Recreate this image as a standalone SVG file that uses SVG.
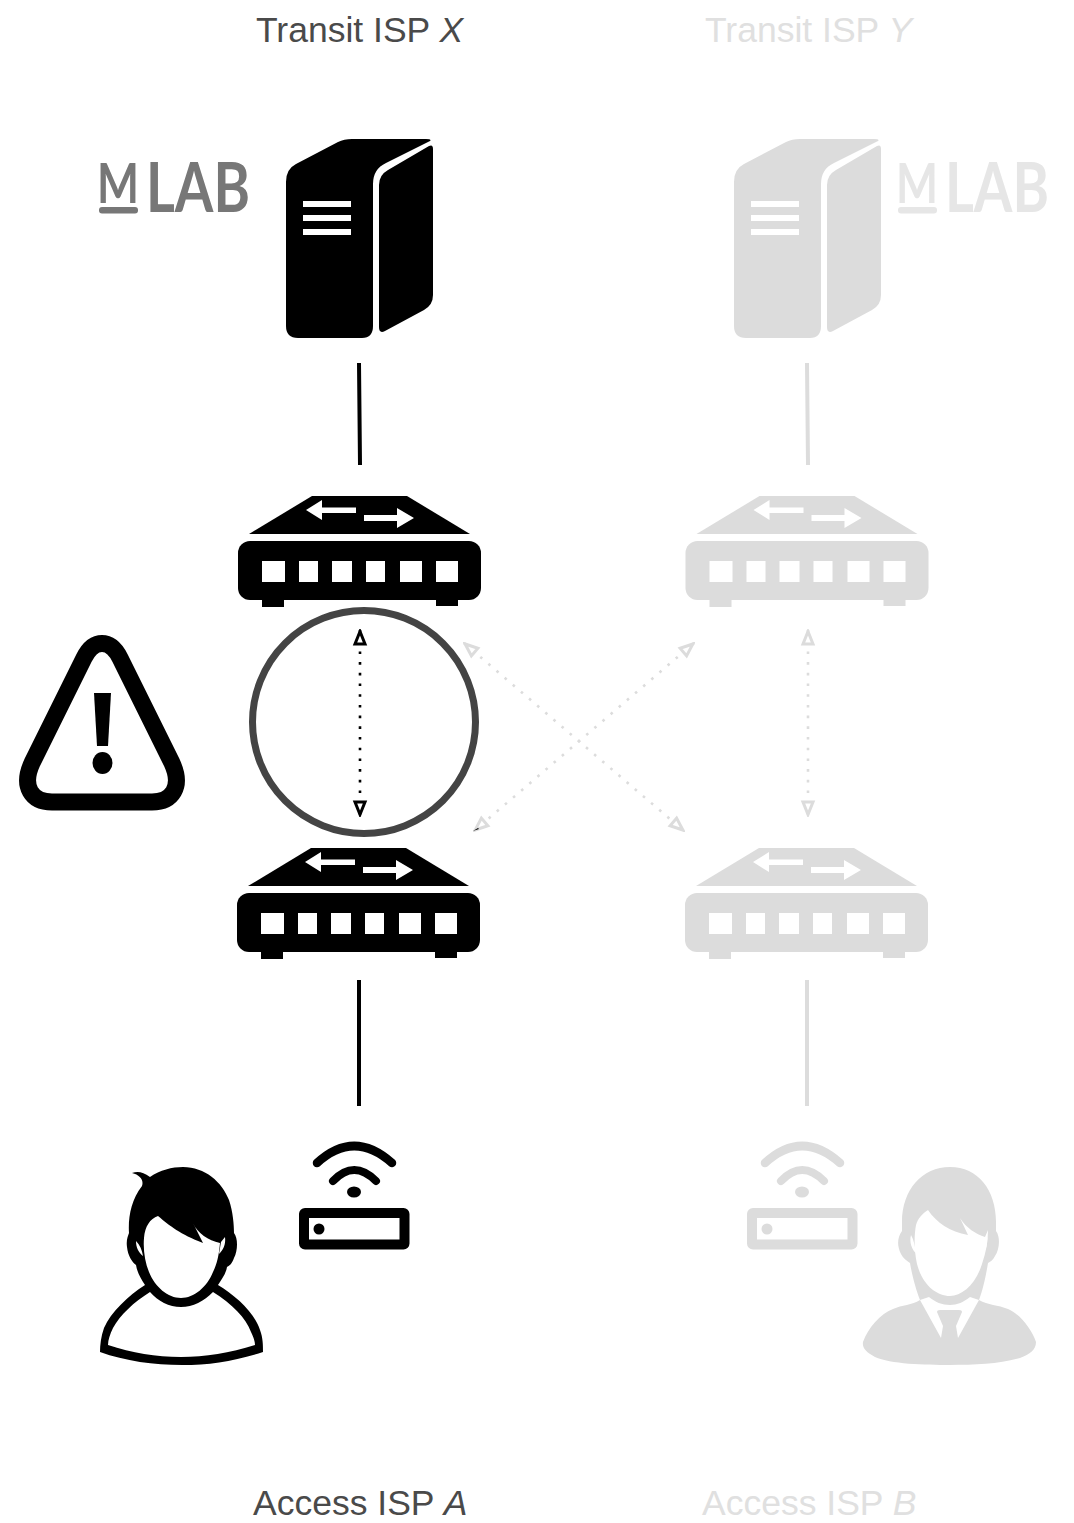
<svg xmlns="http://www.w3.org/2000/svg" width="1074" height="1523" viewBox="0 0 1074 1523">
<style>
.lbl{font-family:"Liberation Sans",Arial,sans-serif;font-size:35.500px}
.on{fill:#4a4a4a}
.off{fill:#e0e0e0}
.solid{fill:none;stroke-width:4}
.dot{fill:none;stroke-width:2.600;stroke-dasharray:2.600 8.100}
.k{fill:currentColor}
.w{fill:#fff}
.logo{font-family:"Lato","Liberation Sans",sans-serif;font-weight:700}
</style>
<defs>
<marker id="ma" viewBox="0 0 18 16" refX="17" refY="8" markerWidth="18" markerHeight="16" markerUnits="userSpaceOnUse" orient="auto-start-reverse"><path d="M15.500 8 L3 3 L3 13 Z" fill="#fff" stroke="#000" stroke-width="3"/></marker>
<marker id="mb" viewBox="0 0 18 16" refX="17" refY="8" markerWidth="18" markerHeight="16" markerUnits="userSpaceOnUse" orient="auto-start-reverse"><path d="M15.500 8 L3 3 L3 13 Z" fill="#fff" stroke="#dcdcdc" stroke-width="3"/></marker>
<g id="server">
<path class="k" d="M286 182Q286 169 296 164L338 142Q344 139 352 139L426 139Q432 139 430 141L386 163Q373 169 373 184L373 326Q373 338 362 338L298 338Q286 338 286 326Z"/>
<path class="k" d="M379 185Q379 175 388 170L429 146Q433 144 433 149L433 295Q433 305 424 310L385 331Q379 334 379 327Z"/>
<rect class="w" x="303" y="201" width="48" height="6"/><rect class="w" x="303" y="215" width="48" height="6"/><rect class="w" x="303" y="229" width="48" height="6"/>
</g>
<g id="router">
<path class="k" d="M312 496H407L470 534H249Z"/>
<path class="w" d="M306 510L322 500V507.500H356V513H322V520Z"/>
<path class="w" d="M414 518L397 508V515H364V521H397V528Z"/>
<rect class="k" x="238" y="541" width="243" height="59" rx="12"/>
<rect class="k" x="262" y="598" width="22" height="9"/><rect class="k" x="436" y="598" width="22" height="8"/>
<rect class="w" x="262" y="561" width="23" height="21"/><rect class="w" x="299" y="561" width="19" height="21"/><rect class="w" x="332" y="561" width="20" height="21"/><rect class="w" x="366" y="561" width="19" height="21"/><rect class="w" x="400" y="561" width="22" height="21"/><rect class="w" x="436" y="561" width="22" height="21"/>
</g>
<g id="wifi">
<path d="M317 1163Q354 1129 392 1163" fill="none" stroke="currentColor" stroke-width="8.500" stroke-linecap="round"/>
<path d="M333 1181Q354 1159 376 1181" fill="none" stroke="currentColor" stroke-width="8" stroke-linecap="round"/>
<ellipse class="k" cx="354" cy="1192" rx="7" ry="5.500"/>
<rect x="304" y="1213" width="100.500" height="31.500" rx="1" fill="none" stroke="currentColor" stroke-width="10" stroke-linejoin="round"/>
<circle class="k" cx="319" cy="1229" r="5.500"/>
</g>
</defs>

<g id="connectors">
<path class="solid" stroke="#000" d="M359 363L360 465M359 980V1106"/>
<path class="solid" stroke="#dcdcdc" d="M807 363L808 465M807 980V1106"/>
<path class="dot" stroke="#dcdcdc" marker-start="url(#mb)" marker-end="url(#mb)" d="M808 630V816"/>
<path class="dot" stroke="#dcdcdc" marker-start="url(#mb)" marker-end="url(#mb)" d="M464 643L684 831"/>
<path class="dot" stroke="#dcdcdc" marker-start="url(#mb)" marker-end="url(#mb)" d="M694 643L474 831"/>
<path class="dot" stroke="#000" marker-start="url(#ma)" marker-end="url(#ma)" d="M360 630V816"/>
<path d="M473 831L478 828L479 829Z" fill="#000"/>
</g>

<g id="label-transit-x"><text class="lbl on" x="256" y="42">Transit ISP <tspan font-style="italic">X</tspan></text></g>
<g id="label-transit-y"><text class="lbl off" x="705" y="42">Transit ISP <tspan font-style="italic">Y</tspan></text></g>
<g id="label-access-a"><text class="lbl on" x="253" y="1515">Access ISP <tspan font-style="italic">A</tspan></text></g>
<g id="label-access-b"><text class="lbl off" x="702" y="1515">Access ISP <tspan font-style="italic">B</tspan></text></g>

<g id="logo-x" fill="#777">
<text class="logo" x="97" y="203" font-size="55" textLength="42" lengthAdjust="spacingAndGlyphs">M</text>
<rect x="99" y="207" width="39" height="6.500" rx="3"/>
<text class="logo" x="146" y="212" font-size="68" textLength="104" lengthAdjust="spacingAndGlyphs">LAB</text>
</g>
<g id="logo-y" fill="#e6e6e6">
<text class="logo" x="896" y="203" font-size="55" textLength="42" lengthAdjust="spacingAndGlyphs">M</text>
<rect x="898" y="207" width="39" height="6.500" rx="3"/>
<text class="logo" x="945" y="212" font-size="68" textLength="104" lengthAdjust="spacingAndGlyphs">LAB</text>
</g>

<g id="server-x" color="#000"><use href="#server"/></g>
<g id="server-y" color="#dcdcdc"><use href="#server" x="448"/></g>
<g id="router-x" color="#000"><use href="#router"/></g>
<g id="router-y" color="#dcdcdc"><use href="#router" x="447.500"/></g>
<g id="router-a" color="#000"><use href="#router" x="-1" y="352"/></g>
<g id="router-b" color="#dcdcdc"><use href="#router" x="447" y="352"/></g>

<g id="ring"><circle cx="364" cy="722" r="111.500" fill="none" stroke="#444" stroke-width="7"/></g>

<g id="warning">
<path d="M102 643.500C110 643.500 116 650 120 658L172 763C183 787 172 802 152 802L52 802C32 802 21 787 32 763L84 658C88 650 94 643.500 102 643.500Z" fill="none" stroke="#000" stroke-width="17"/>
<path d="M94 693H111L108 746H97Z"/>
<ellipse cx="102.500" cy="763" rx="10" ry="11"/>
</g>

<g id="wifi-a" color="#000"><use href="#wifi"/></g>
<g id="wifi-b" color="#dcdcdc"><use href="#wifi" x="448"/></g>

<g id="person-a">
<path d="M132 1173C138 1171 143 1172 150 1177C160 1170 172 1167 183 1167C205 1167 222 1182 229 1200C233 1212 234 1225 234 1233C238 1238 238 1250 234 1258C232 1264 229 1266 227 1267C226 1274 221 1280 218 1285C236 1296 254 1312 260 1330C263 1338 263 1345 263 1352C235 1361 210 1365 182 1365C154 1365 125 1361 100 1352C100 1345 101 1336 104 1328C111 1312 128 1296 145 1285C141 1279 137 1272 136 1265C132 1262 128 1256 127 1247C126 1240 128 1236 129 1233C128 1218 131 1200 142 1186C144 1180 140 1175 132 1173Z"/>
<path class="w" d="M158 1216C170 1226 180 1234 203 1243L193 1223C198 1234 208 1240 220 1243C219 1255 217 1264 213 1272C207 1287 194 1298 181 1298C168 1298 155 1287 149 1272C145 1262 143 1250 144 1238C145 1226 150 1219 158 1216Z"/>
<path class="w" d="M150 1292C158 1301 169 1307 181 1307C193 1307 204 1301 213 1292C232 1304 246 1318 251 1332C254 1338 255 1342 255 1345C230 1353 205 1357 181 1357C156 1357 132 1353 108 1345C108 1340 110 1334 113 1328C120 1315 134 1302 150 1292Z"/>
<path class="w" d="M136 1241C140 1245 142 1250 143 1256C138 1252 136 1247 136 1241ZM225 1237C226 1245 223 1250 219 1254L221 1242Z"/>
</g>

<g id="person-b" fill="#dcdcdc">
<path d="M950 1167C978 1167 996 1190 996 1222L996 1231C1001 1238 999 1250 995 1256C993 1260 990 1262 988 1263C986 1275 983 1290 979 1300C988 1305 998 1305 1008 1309C1020 1314 1032 1330 1036 1342C1036 1350 1030 1354 1020 1358C1000 1364 975 1365 950 1365C925 1365 890 1364 875 1357C866 1352 862 1348 863 1342C868 1328 880 1314 893 1309C902 1305 912 1305 920 1300C916 1290 912 1275 910 1263C906 1260 903 1258 901 1254C897 1246 897 1238 902 1231L902 1222C902 1190 922 1167 950 1167Z"/>
<path class="w" d="M928 1210C936 1222 950 1232 968 1235L960 1218C966 1228 976 1234 985 1237L988 1230C988 1242 986 1252 982 1264C976 1284 962 1296 950 1296C936 1296 922 1284 917 1264C914 1250 914 1236 916 1225C918 1218 922 1214 928 1210Z"/>
<path class="w" d="M920 1300L941 1338L943 1326L937 1312Q937 1310 940 1310L959 1310Q962 1310 962 1312L956 1326L958 1338L979 1300L970 1297C964 1302 957 1305 950 1305C942 1305 935 1302 929 1297Z"/>
<path class="w" d="M911 1235C914 1240 915 1247 916 1253C912 1250 909 1242 911 1235ZM987 1236C988 1243 986 1250 983 1254L985 1240Z"/>
</g>
</svg>
